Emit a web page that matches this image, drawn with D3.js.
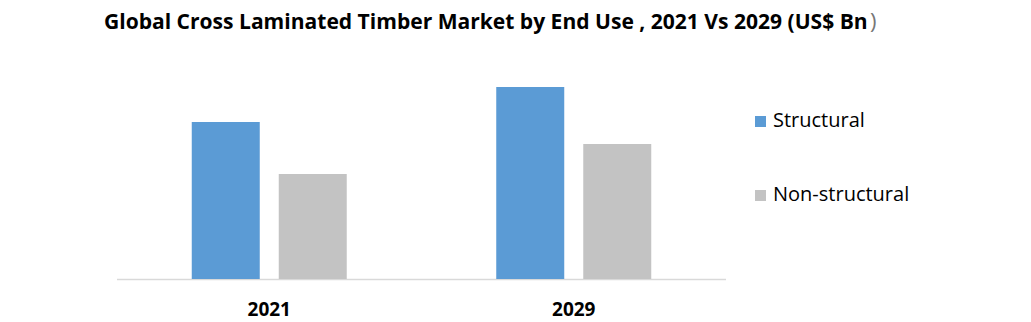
<!DOCTYPE html>
<html>
<head>
<meta charset="UTF-8" />
<script src="https://d3js.org/d3.v7.min.js"></script>
<style>
  body { margin: 0; background: #fff; }
  svg { display: block; font-family: "Open Sans", "Liberation Sans", sans-serif; }
</style>
</head>
<body>
<div id="chart"></div>
<script>
// data
const years = ["2021", "2029"];
const seriesNames = ["Structural", "Non-structural"];
const structural = [1.57, 1.92];
const nonStructural = [1.05, 1.35];
const colors = ["#5B9BD5", "#C3C3C3"];

const W = 1031, H = 322;
const svg = d3.select("#chart").append("svg")
  .attr("width", W).attr("height", H);

const baseY = 279;
const y = d3.scaleLinear().domain([0, 2]).range([baseY, baseY - 200]);

const x0 = d3.scaleBand().domain(years).range([117, 726]);
const x1 = d3.scaleBand().domain(seriesNames).range([0, 155]).paddingInner(19 / 87);

const rows = years.map((yr, i) => ({ year: yr, vals: [structural[i], nonStructural[i]] }));

// baseline
svg.append("line")
  .attr("x1", 117).attr("x2", 726)
  .attr("y1", baseY + 0.5).attr("y2", baseY + 0.5)
  .attr("stroke", "#d9d9d9").attr("stroke-width", 1.5);

const groups = svg.selectAll(".grp").data(rows).enter().append("g")
  .attr("transform", d => `translate(${x0(d.year) + x0.bandwidth() / 2 - 77.5},0)`);

groups.selectAll("rect")
  .data(d => d.vals.map((v, j) => ({ name: seriesNames[j], v, j })))
  .enter().append("rect")
  .attr("x", d => x1(d.name))
  .attr("width", x1.bandwidth())
  .attr("y", d => y(d.v))
  .attr("height", d => baseY - y(d.v))
  .attr("fill", d => colors[d.j]);

// year labels
svg.selectAll(".yr").data(years).enter().append("text")
  .attr("x", d => x0(d) + x0.bandwidth() / 2)
  .attr("y", 316)
  .attr("text-anchor", "middle")
  .attr("font-size", 19).attr("font-weight", "bold")
  .attr("fill", "#000")
  .text(d => d);

// title - narrow font, sized to fill the same width as the original
const titleW = 764;
const title = svg.append("text")
  .attr("x", 104).attr("y", 29)
  .style("font-family", "'Liberation Sans Narrow', 'Open Sans', sans-serif")
  .attr("font-size", 22).attr("font-weight", "bold")
  .attr("fill", "#000")
  .text("Global Cross Laminated Timber Market by End Use , 2021 Vs 2029 (US$ Bn");
const natural = title.node().getComputedTextLength();
title.attr("font-size", 22 * titleW / natural);
// closing bracket is lighter in the original
svg.append("text")
  .attr("x", 104 + titleW + 2).attr("y", 29)
  .attr("font-size", 22)
  .attr("fill", "#777")
  .text(")");

// legend
const leg = svg.selectAll(".leg").data(seriesNames).enter().append("g")
  .attr("transform", (d, i) => `translate(755,${116 + i * 74})`);
leg.append("rect").attr("width", 11).attr("height", 11)
  .attr("fill", (d, i) => colors[i]);
leg.append("text").attr("x", 18).attr("y", 11)
  .attr("font-size", 20).attr("fill", "#000")
  .text(d => d);
</script>
</body>
</html>
